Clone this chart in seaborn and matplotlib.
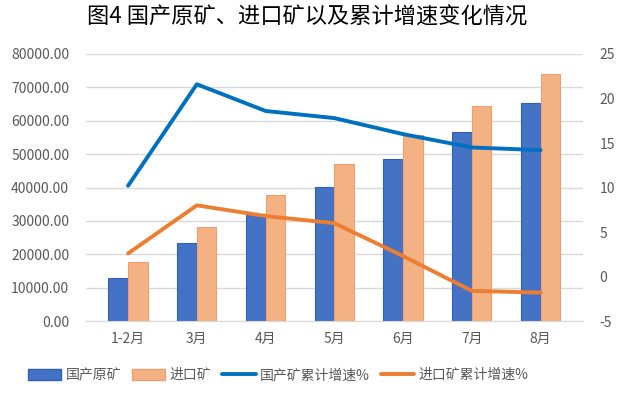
import matplotlib
matplotlib.use('Agg')
import matplotlib.pyplot as plt
import seaborn as sns
import pandas as pd
from matplotlib.patches import Patch
from matplotlib.lines import Line2D

months = ['1-2月', '3月', '4月', '5月', '6月', '7月', '8月']
domestic = [13000, 23400, 32100, 40200, 48600, 56700, 65400]
imported = [17800, 28200, 37800, 47100, 55800, 64500, 74100]
domestic_growth = [10.2, 21.6, 18.6, 17.8, 16.0, 14.5, 14.2]
import_growth = [2.6, 8.0, 6.8, 6.0, 2.3, -1.6, -1.8]

sns.set_style('white')
plt.rcParams['font.family'] = ['Noto Sans CJK SC', 'DejaVu Sans']
plt.rcParams['axes.unicode_minus'] = False

bars = pd.DataFrame({
    'month': months * 2,
    'value': domestic + imported,
    'kind': ['国产原矿'] * 7 + ['进口矿'] * 7,
})
lines = pd.DataFrame({
    'month': months * 2,
    'rate': domestic_growth + import_growth,
    'kind': ['国产矿累计增速%'] * 7 + ['进口矿累计增速%'] * 7,
})

bar_colors = {'国产原矿': '#4472C4', '进口矿': '#F4B183'}
edge_colors = ['#2F5FBF', '#F0A070']
line_colors = {'国产矿累计增速%': '#0070C0', '进口矿累计增速%': '#ED7D31'}
gray = '#595959'

fig = plt.figure(figsize=(6.18, 3.94), dpi=100)
ax = fig.add_axes([0.139, 0.185, 0.804, 0.678])

sns.barplot(data=bars, x='month', y='value', hue='kind', palette=bar_colors,
            width=0.57, gap=0, saturation=1, ax=ax, legend=False)
for i, cont in enumerate(ax.containers):
    for p in cont:
        p.set_edgecolor(edge_colors[i])
        p.set_linewidth(0.8)

ax.set_ylim(0, 80000)
ax.set_yticks(range(0, 80001, 10000))
ax.set_yticklabels([f'{v:.2f}' for v in range(0, 80001, 10000)])
ax.yaxis.grid(True, color='#D9D9D9', linewidth=1)
ax.set_axisbelow(True)
ax.set_xlabel('')
ax.set_ylabel('')
for s in ['top', 'right', 'left']:
    ax.spines[s].set_visible(False)
ax.spines['bottom'].set_color('#D9D9D9')
ax.tick_params(axis='both', length=0, colors=gray, labelsize=10)
ax.tick_params(axis='y', pad=12)
ax.tick_params(axis='x', pad=8)

ax2 = ax.twinx()
sns.lineplot(data=lines, x='month', y='rate', hue='kind', palette=line_colors,
             linewidth=2.8, ax=ax2, legend=False)
ax2.set_ylim(-5, 25)
ax2.set_yticks(range(-5, 26, 5))
ax2.set_ylabel('')
for s in ['top', 'right', 'left', 'bottom']:
    ax2.spines[s].set_visible(False)
ax2.tick_params(axis='y', length=0, colors=gray, labelsize=10, pad=12)

fig.text(0.497, 0.957, '图4 国产原矿、进口矿以及累计增速变化情况', ha='center', va='center',
         fontsize=16, fontweight='medium', color='black')

handles = [
    Patch(facecolor='#4472C4', edgecolor='#2F5FBF'),
    Patch(facecolor='#F4B183', edgecolor='#F0A070'),
    Line2D([0], [0], color='#0070C0', linewidth=2.8),
    Line2D([0], [0], color='#ED7D31', linewidth=2.8),
]
labels = ['国产原矿', '进口矿', '国产矿累计增速%', '进口矿累计增速%']
leg = fig.legend(handles, labels, loc='center', bbox_to_anchor=(0.45, 0.048), ncol=4,
                 frameon=False, fontsize=10, handlelength=2.4, handleheight=0.8,
                 columnspacing=0.8, handletextpad=0.3)
for t in leg.get_texts():
    t.set_color(gray)

plt.savefig('out.png', dpi=100)
